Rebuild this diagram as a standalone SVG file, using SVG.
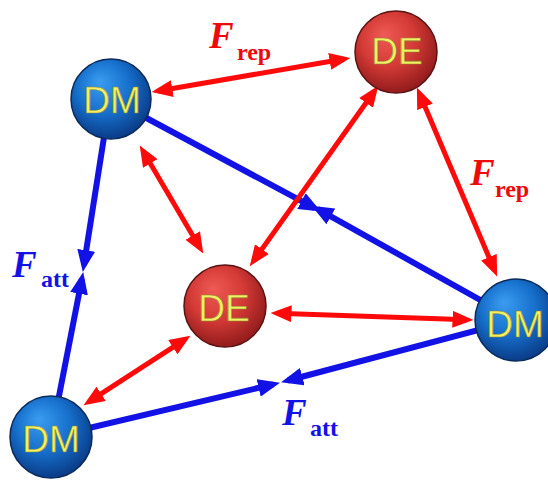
<svg xmlns="http://www.w3.org/2000/svg" width="548" height="481" viewBox="0 0 548 481">
  <defs>
    <radialGradient id="gBlue" cx="0.45" cy="0.4" r="0.6" fx="0.35" fy="0.28">
      <stop offset="0" stop-color="#3a9cf0"/>
      <stop offset="0.55" stop-color="#1670cc"/>
      <stop offset="1" stop-color="#0a3c88"/>
    </radialGradient>
    <radialGradient id="gRed" cx="0.45" cy="0.4" r="0.6" fx="0.35" fy="0.28">
      <stop offset="0" stop-color="#ee5a55"/>
      <stop offset="0.55" stop-color="#d43a36"/>
      <stop offset="1" stop-color="#921c1c"/>
    </radialGradient>
    <marker id="hr" viewBox="0 0 21 17" markerWidth="21" markerHeight="17" refX="14.5" refY="8.5" orient="auto-start-reverse" markerUnits="userSpaceOnUse">
      <path d="M0,0 L21,8.5 L0,17 Z" fill="#ff0a0a"/>
    </marker>
    <marker id="hb" viewBox="0 0 22 18" markerWidth="22" markerHeight="18" refX="15" refY="9" orient="auto" markerUnits="userSpaceOnUse">
      <path d="M0,0 L22,9 L0,18 Z" fill="#1212e6"/>
    </marker>
  </defs>
  <style>
    .att { stroke: #1212e6; stroke-width: 6; fill: none; marker-end: url(#hb); }
    .rep { stroke: #ff0a0a; stroke-width: 5; fill: none; marker-start: url(#hr); marker-end: url(#hr); }
    .dm { fill: url(#gBlue); stroke: #0a2a5a; stroke-width: 1.5; }
    .de { fill: url(#gRed); stroke: #5a1212; stroke-width: 1.5; }
    .nt { font-family: "Liberation Sans", Arial, sans-serif; font-size: 37px; fill: #f4f064; stroke: #8c8a30; stroke-width: 0.6; text-anchor: middle; }
    .F { font-family: "Liberation Serif", "Times New Roman", serif; font-weight: bold; font-style: italic; font-size: 37px; }
    .sub { font-family: "Liberation Serif", "Times New Roman", serif; font-weight: bold; font-size: 24px; }
  </style>

  <g id="connectors">
    <!-- attractive forces: pairs of blue arrows meeting head to head -->
    <line class="att" x1="111" y1="99" x2="314.7" y2="208.2"/>
    <line class="att" x1="516" y1="320" x2="317.8" y2="209.1"/>
    <line class="att" x1="110" y1="99" x2="83.9" y2="265.1"/>
    <line class="att" x1="51" y1="437" x2="81.9" y2="278.9"/>
    <line class="att" x1="51" y1="437" x2="273.2" y2="384.4"/>
    <line class="att" x1="516" y1="320" x2="287.8" y2="380.5"/>
    <!-- repulsive forces: red double-headed arrows -->
    <line class="rep" x1="158" y1="91" x2="344" y2="59"/>
    <line class="rep" x1="143" y1="151" x2="200" y2="248"/>
    <line class="rep" x1="374.5" y1="91" x2="253.5" y2="261"/>
    <line class="rep" x1="419.4" y1="93.5" x2="494.6" y2="270.5"/>
    <line class="rep" x1="277" y1="313.2" x2="467" y2="319.8"/>
    <line class="rep" x1="185" y1="339.3" x2="89" y2="401.7"/>
  </g>

  <g id="dm-top-left">
    <circle class="dm" cx="111" cy="99" r="40"/>
    <text class="nt" x="112" y="113">DM</text>
  </g>
  <g id="de-top">
    <circle class="de" cx="396" cy="52" r="41"/>
    <text class="nt" x="397" y="64">DE</text>
  </g>
  <g id="de-middle">
    <circle class="de" cx="225" cy="306" r="41"/>
    <text class="nt" x="224" y="321">DE</text>
  </g>
  <g id="dm-right">
    <circle class="dm" cx="516" cy="320" r="41"/>
    <text class="nt" x="515" y="337">DM</text>
  </g>
  <g id="dm-bottom-left">
    <circle class="dm" cx="51" cy="437" r="41"/>
    <text class="nt" x="51" y="452">DM</text>
  </g>

  <g id="labels">
    <text x="209" y="48" fill="#ee0a0a"><tspan class="F">F</tspan><tspan class="sub" x="237" y="60">rep</tspan></text>
    <text x="470" y="185" fill="#ee0a0a"><tspan class="F">F</tspan><tspan class="sub" x="495" y="197">rep</tspan></text>
    <text x="12" y="277" fill="#1212e6"><tspan class="F">F</tspan><tspan class="sub" x="41" y="287">att</tspan></text>
    <text x="282" y="425" fill="#1212e6"><tspan class="F">F</tspan><tspan class="sub" x="310" y="436">att</tspan></text>
  </g>
</svg>
